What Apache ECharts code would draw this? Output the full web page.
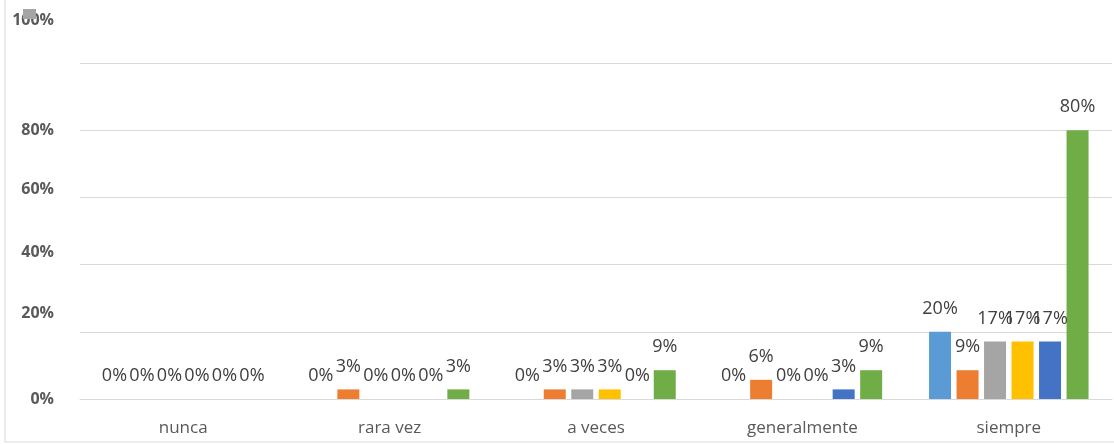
<!DOCTYPE html>
<html>
<head>
<meta charset="utf-8">
<script src="https://cdn.jsdelivr.net/npm/echarts@6/dist/echarts.min.js"></script>
<style>
  html, body { margin: 0; padding: 0; background: #fff; }
  #chart { width: 1114px; height: 444px; }
</style>
</head>
<body>
<div id="chart"></div>
<script>
var categories = ['nunca', 'rara vez', 'a veces', 'generalmente', 'siempre'];
var yTicks = [0, 20, 40, 60, 80, 100];

// porcentajes por serie (n = 35)
var serie1 = [0, 0, 0, 0, 20];
var serie2 = [0, 2.86, 2.86, 5.71, 8.57];
var serie3 = [0, 0, 2.86, 0, 17.14];
var serie4 = [0, 0, 2.86, 0, 17.14];
var serie5 = [0, 0, 0, 2.86, 17.14];
var serie6 = [0, 2.86, 8.57, 8.57, 80];

var names = ['Serie 1', 'Serie 2', 'Serie 3', 'Serie 4', 'Serie 5', 'Serie 6'];
var colors = ['#5B9BD5', '#ED7D31', '#A5A5A5', '#FFC000', '#4472C4', '#70AD47'];
var values = [serie1, serie2, serie3, serie4, serie5, serie6];

// the y labels sit a bit above their gridlines in the original
var labelShift = { 0: 0, 20: 36, 40: 24, 60: 16, 80: 0, 100: 86 };
var rich = {};
yTicks.forEach(function (t) {
    rich['t' + t] = {
        fontFamily: 'Open Sans',
        fontSize: 16,
        fontWeight: 'bold',
        color: '#595959',
        padding: [0, 0, labelShift[t], 0]
    };
});

var series = values.map(function (v, i) {
    return {
        name: names[i],
        type: 'bar',
        data: v,
        barWidth: 22,
        barGap: '25%',
        itemStyle: { color: colors[i] },
        label: {
            show: true,
            position: 'top',
            distance: 14,
            fontFamily: 'Open Sans',
            fontSize: 18,
            color: '#404040',
            formatter: function (p) { return Math.round(p.value) + '%'; }
        }
    };
});

var myChart = echarts.init(document.getElementById('chart'));
var option = {
    animation: false,
    legend: {
        data: ['Serie 3'],
        left: 18,
        top: 4,
        icon: 'rect',
        itemWidth: 13,
        itemHeight: 10,
        formatter: function () { return ''; },
        selectedMode: false
    },
    grid: { left: 80, right: 2, top: 63, bottom: 45 },
    xAxis: {
        type: 'category',
        data: categories,
        axisLine: { lineStyle: { color: '#d9d9d9' } },
        axisTick: { show: false },
        axisLabel: {
            margin: 21,
            fontFamily: 'Open Sans',
            fontSize: 17,
            color: '#595959'
        }
    },
    yAxis: {
        type: 'value',
        min: 0,
        max: 100,
        interval: 20,
        axisLine: { show: false },
        axisTick: { show: false },
        splitLine: { lineStyle: { color: '#d9d9d9' } },
        axisLabel: {
            margin: 26,
            formatter: function (v) { return '{t' + v + '|' + v + '%}'; },
            rich: rich
        }
    },
    graphic: [
        { type: 'line', shape: { x1: 5, y1: 0, x2: 5, y2: 442 }, style: { stroke: '#d9d9d9', lineWidth: 1 } },
        { type: 'line', shape: { x1: 5, y1: 442, x2: 1114, y2: 442 }, style: { stroke: '#d9d9d9', lineWidth: 1 } }
    ],
    series: series
};
myChart.setOption(option);
</script>
</body>
</html>
